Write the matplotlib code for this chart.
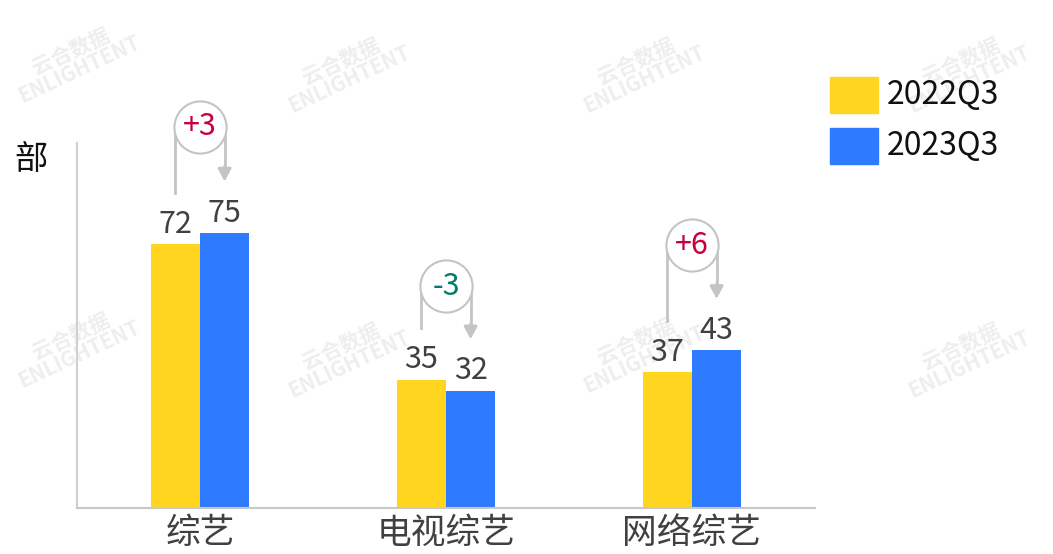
import matplotlib
matplotlib.use("Agg")
import matplotlib.pyplot as plt
from matplotlib.patches import Rectangle
import numpy as np

plt.rcParams['font.family'] = ['Noto Sans CJK SC', 'DejaVu Sans']

categories = ['综艺', '电视综艺', '网络综艺']
series_names = ['2022Q3', '2023Q3']
values_2022 = [72, 35, 37]
values_2023 = [75, 32, 43]
diff_labels = ['+3', '-3', '+6']
unit_label = '部'

YELLOW = '#FFD520'
BLUE = '#2E7BFF'
GRAY = '#C4C4C4'
RED = '#C8003C'
GREEN = '#007B6E'
TEXT = '#404040'
W, H = 1053, 554

fig = plt.figure(figsize=(W / 100, H / 100), dpi=100)

# faint watermarks (behind everything)
wm = [(75, 60), (345, 70), (640, 70), (965, 70), (75, 345), (345, 355), (640, 350), (965, 355)]
for (px, py) in wm:
    fig.text(px / W, 1 - py / H, '云合数据\nENLIGHTENT', fontsize=15,
             color='#EEEEEE', rotation=25, ha='center', va='center',
             fontweight='bold', zorder=-5, linespacing=0.9)

ax = fig.add_axes([77 / W, 46 / H, 738 / W, 365 / H])
ax.patch.set_alpha(0)

x = np.arange(len(categories))
w = 0.2
colors = [YELLOW, BLUE]
ax.bar(x - w / 2, values_2022, w, color=YELLOW, label=series_names[0], zorder=2)
ax.bar(x + w / 2, values_2023, w, color=BLUE, label=series_names[1], zorder=2)

ax.set_xlim(-0.5, 2.5)
ax.set_ylim(0, 99.5)

for xi, v in zip(x - w / 2, values_2022):
    ax.annotate(str(v), (xi, v), xytext=(0, 3), textcoords='offset points',
                ha='center', va='bottom', fontsize=22, color=TEXT)
for xi, v in zip(x + w / 2, values_2023):
    ax.annotate(str(v), (xi, v), xytext=(0, 3), textcoords='offset points',
                ha='center', va='bottom', fontsize=22, color=TEXT)

# bubbles with brackets
bubble_y = [103.9, 60.5, 71.6]
gap = 14
px_per_x = 738 / 3.0
r_px = w / 2 * px_per_x + 1.5
ms = 2 * r_px * 72 / 100
for i, (a, b, lab) in enumerate(zip(values_2022, values_2023, diff_labels)):
    cy = bubble_y[i]
    xl = x[i] - w / 2
    xr = x[i] + w / 2
    ax.plot([xl, xl], [a + gap, cy], color=GRAY, lw=2, clip_on=False, zorder=3)
    ax.plot([xr, xr], [cy, b + gap + 3.5], color=GRAY, lw=2, clip_on=False, zorder=3)
    ax.annotate('', xy=(xr, b + gap), xytext=(xr, b + gap + 4.2),
                arrowprops=dict(arrowstyle='-|>,head_length=0.75,head_width=0.4',
                                color=GRAY, lw=2, shrinkA=0, shrinkB=0),
                annotation_clip=False, zorder=3)
    ax.plot([x[i]], [cy], marker='o', ms=ms, mfc='white', mec=GRAY, mew=1.5,
            clip_on=False, zorder=4)
    col = RED if lab.startswith('+') else GREEN
    ax.text(x[i], cy, lab, ha='center', va='center', fontsize=22, color=col,
            zorder=5, clip_on=False)

for s in ['top', 'right']:
    ax.spines[s].set_visible(False)
ax.spines['left'].set_color('#D0D0D0')
ax.spines['bottom'].set_color('#C8C8C8')
ax.spines['left'].set_linewidth(1.5)
ax.spines['bottom'].set_linewidth(1.5)
ax.set_yticks([])
ax.set_xticks(x)
ax.set_xticklabels(categories, fontsize=25, color=TEXT)
ax.tick_params(axis='x', length=0, pad=6)

fig.text(14 / W, 1 - 159 / H, unit_label, fontsize=24, color='#111111',
         ha='left', va='center')

# legend
leg_rows = [(77, 113), (128, 164)]
for (top, bot), name, c in zip(leg_rows, series_names, colors):
    fig.patches.append(Rectangle((830 / W, 1 - bot / H), 48 / W, (bot - top) / H,
                                 transform=fig.transFigure, color=c))
    fig.text(887 / W, 1 - (top + bot) / 2 / H, name, fontsize=23, color='#111111',
             ha='left', va='center')

fig.savefig('out.png', dpi=100, facecolor='white')
